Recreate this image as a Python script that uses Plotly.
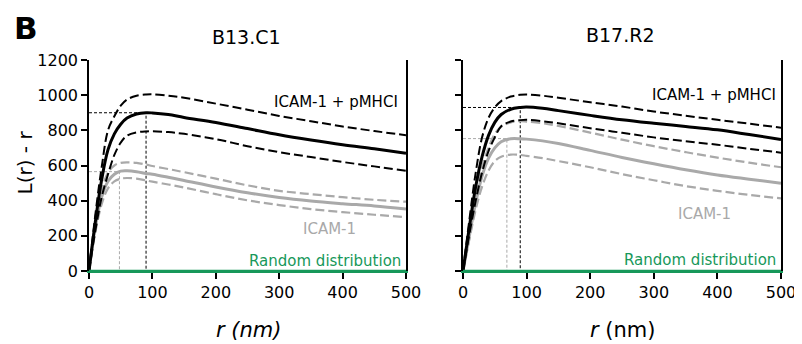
import plotly.graph_objects as go

# ---------------- data ----------------
r_nm = [0, 10, 20, 30, 40, 50, 60, 75, 90, 100, 125, 150, 200, 250, 300, 350, 400, 450, 500]

# Panel 1: B13.C1
b13_pm_mean = [0, 280, 520, 690, 780, 835, 870, 893, 900, 899, 890, 873, 845, 810, 775, 745, 718, 695, 670]
b13_pm_hi   = [0, 320, 590, 800, 880, 940, 975, 997, 1004, 1005, 997, 985, 952, 917, 882, 852, 822, 796, 772]
b13_pm_lo   = [0, 230, 420, 550, 660, 730, 770, 788, 794, 795, 790, 780, 750, 710, 676, 648, 620, 595, 570]
b13_ic_mean = [0, 250, 420, 510, 550, 568, 570, 565, 555, 550, 533, 515, 478, 445, 418, 398, 383, 370, 352]
b13_ic_hi   = [0, 270, 460, 560, 600, 615, 618, 615, 605, 597, 580, 562, 525, 487, 456, 437, 420, 405, 394]
b13_ic_lo   = [0, 220, 380, 470, 510, 525, 529, 525, 515, 508, 492, 475, 437, 402, 375, 352, 335, 320, 306]
b13_pm_peak = (90, 900)
b13_ic_peak = (48, 565)

# Panel 2: B17.R2
b17_pm_mean = [0, 250, 480, 650, 770, 845, 890, 920, 930, 932, 925, 912, 885, 860, 840, 822, 803, 776, 748]
b17_pm_hi   = [0, 290, 560, 760, 870, 930, 966, 992, 1002, 1004, 997, 985, 960, 935, 907, 883, 860, 838, 815]
b17_pm_lo   = [0, 210, 400, 560, 680, 760, 823, 850, 858, 860, 852, 840, 812, 786, 760, 738, 718, 695, 673]
b17_ic_hi   = [0, 220, 430, 590, 700, 780, 820, 845, 852, 850, 840, 825, 787, 747, 710, 676, 645, 616, 590]
b17_ic_mean = [0, 200, 390, 540, 640, 700, 735, 752, 752, 750, 740, 725, 686, 646, 610, 576, 546, 522, 499]
b17_ic_lo   = [0, 180, 350, 480, 570, 625, 650, 662, 660, 655, 642, 625, 590, 551, 516, 483, 456, 433, 413]
b17_pm_peak = (90, 930)
b17_ic_peak = (69, 753)

random_r = [0, 500]
random_L = [0, 0]

panel_titles = ["B13.C1", "B17.R2"]
y_ticks = [0, 200, 400, 600, 800, 1000, 1200]
x_ticks = [0, 100, 200, 300, 400, 500]

# ---------------- style ----------------
FONT = "DejaVu Sans"
BLACK = "#000000"
GRAY = "#a9a9a9"
GREEN = "#17985a"
OFF = 8                 # default page body margin
W, H = 802 - OFF, 344 - OFF

fig = go.Figure()

panels = [
    dict(pm=(b13_pm_mean, b13_pm_hi, b13_pm_lo), ic=(b13_ic_mean, b13_ic_hi, b13_ic_lo),
         pmpk=b13_pm_peak, icpk=b13_ic_peak, xa="x", ya="y"),
    dict(pm=(b17_pm_mean, b17_pm_hi, b17_pm_lo), ic=(b17_ic_mean, b17_ic_hi, b17_ic_lo),
         pmpk=b17_pm_peak, icpk=b17_ic_peak, xa="x2", ya="y2"),
]

for p in panels:
    xa, ya = p["xa"], p["ya"]
    # reference dotted lines to peaks
    for (pr, pl), col in ((p["icpk"], GRAY), (p["pmpk"], BLACK)):
        fig.add_trace(go.Scatter(x=[0, pr, pr], y=[pl, pl, 0], mode="lines",
                                 line=dict(color=col, width=1, dash="3px,2px"),
                                 xaxis=xa, yaxis=ya, showlegend=False, hoverinfo="skip"))
    # ICAM-1 (gray)
    mean, hi, lo = p["ic"]
    for arr in (hi, lo):
        fig.add_trace(go.Scatter(x=r_nm, y=arr, mode="lines", line_shape="spline",
                                 line=dict(color=GRAY, width=2.2, dash="9px,4px"),
                                 xaxis=xa, yaxis=ya, showlegend=False))
    fig.add_trace(go.Scatter(x=r_nm, y=mean, mode="lines", line_shape="spline",
                             line=dict(color=GRAY, width=3),
                             xaxis=xa, yaxis=ya, showlegend=False))
    # ICAM-1 + pMHCI (black)
    mean, hi, lo = p["pm"]
    for arr in (hi, lo):
        fig.add_trace(go.Scatter(x=r_nm, y=arr, mode="lines", line_shape="spline",
                                 line=dict(color=BLACK, width=2, dash="9px,4px"),
                                 xaxis=xa, yaxis=ya, showlegend=False))
    fig.add_trace(go.Scatter(x=r_nm, y=mean, mode="lines", line_shape="spline",
                             line=dict(color=BLACK, width=3),
                             xaxis=xa, yaxis=ya, showlegend=False))
    # random distribution
    fig.add_trace(go.Scatter(x=random_r, y=random_L, mode="lines",
                             line=dict(color=GREEN, width=2.5),
                             xaxis=xa, yaxis=ya, showlegend=False))

# domains (page-pixel based, compensating for body margin)
def fx(px):
    return (px - OFF) / W

def fy(py):
    return 1 - (py - OFF) / H

xd1 = [fx(89), fx(406)]
xd2 = [fx(463), fx(781)]
yd = [fy(271), fy(60)]

axis_common = dict(range=[0, 500], tickvals=x_ticks, ticks="outside", ticklen=6, tickwidth=1.5,
                   tickcolor=BLACK, showline=True, linecolor=GREEN, linewidth=2,
                   showgrid=False, zeroline=False, automargin=False,
                   tickfont=dict(family=FONT, size=16, color=BLACK))
yaxis_common = dict(range=[0, 1200], tickvals=y_ticks, ticks="outside", ticklen=6, tickwidth=1.5,
                    tickcolor=BLACK, showline=True, linecolor=BLACK, linewidth=1.5, mirror=True,
                    showgrid=False, zeroline=False, automargin=False,
                    tickfont=dict(family=FONT, size=16, color=BLACK))

fig.update_layout(
    width=W, height=H,
    margin=dict(l=0, r=0, t=0, b=0, autoexpand=False),
    paper_bgcolor="white", plot_bgcolor="white",
    showlegend=False,
    xaxis=dict(domain=xd1, anchor="y", **axis_common),
    yaxis=dict(domain=yd, anchor="x", **yaxis_common),
    xaxis2=dict(domain=xd2, anchor="y2", **axis_common),
    yaxis2=dict(domain=yd, anchor="x2", showticklabels=False, **yaxis_common),
)

ann = []
# panel letter
ann.append(dict(text="<b>B</b>", x=fx(25.5), y=fy(8.5), xref="paper", yref="paper",
                xanchor="center", yanchor="top", showarrow=False, borderpad=0,
                font=dict(family=FONT, size=31, color=BLACK)))
# panel titles
ann.append(dict(text=panel_titles[0], x=fx(246), y=fy(37), xref="paper", yref="paper",
                xanchor="center", yanchor="middle", showarrow=False,
                font=dict(family=FONT, size=19, color=BLACK)))
ann.append(dict(text=panel_titles[1], x=fx(620), y=fy(35), xref="paper", yref="paper",
                xanchor="center", yanchor="middle", showarrow=False,
                font=dict(family=FONT, size=19, color=BLACK)))
# y title
ann.append(dict(text="L(r) - r", x=fx(24), y=fy(162.5), xref="paper", yref="paper",
                xanchor="center", yanchor="middle", showarrow=False, textangle=-90,
                font=dict(family=FONT, size=20, color=BLACK)))
# x titles
ann.append(dict(text="<i>r (nm)</i>", x=fx(248), y=fy(330), xref="paper", yref="paper",
                xanchor="center", yanchor="middle", showarrow=False,
                font=dict(family=FONT, size=21, color=BLACK)))
ann.append(dict(text="<i>r</i> (nm)", x=fx(622), y=fy(330), xref="paper", yref="paper",
                xanchor="center", yanchor="middle", showarrow=False,
                font=dict(family=FONT, size=21, color=BLACK)))

# in-plot labels
labels = [
    ("x", "y", "ICAM-1 + pMHCI", 490, 962, "right", BLACK),
    ("x", "y", "ICAM-1", 379, 239, "center", GRAY),
    ("x", "y", "Random distribution", 495, 57, "right", GREEN),
    ("x2", "y2", "ICAM-1 + pMHCI", 495, 1000, "right", BLACK),
    ("x2", "y2", "ICAM-1", 380, 324, "center", GRAY),
    ("x2", "y2", "Random distribution", 495, 63, "right", GREEN),
]
for xr, yr, t, xv, yv, xa, col in labels:
    ann.append(dict(text=t, x=xv, y=yv, xref=xr, yref=yr, xanchor=xa, yanchor="middle",
                    showarrow=False, font=dict(family=FONT, size=15, color=col)))

fig.update_layout(annotations=ann)

fig.write_html("out.html")
